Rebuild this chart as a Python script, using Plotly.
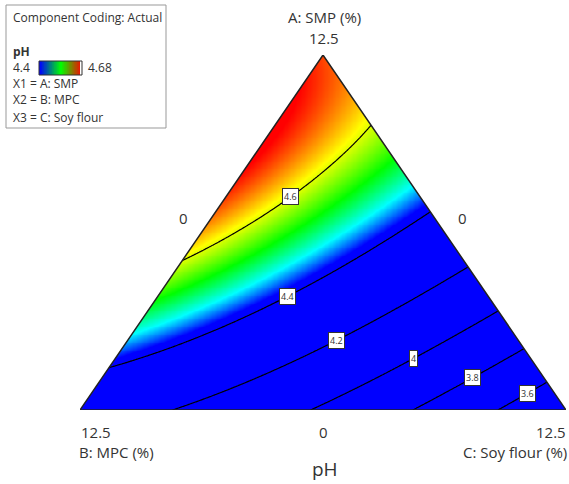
import numpy as np
import plotly.graph_objects as go

# ---------------- data ----------------
components = ["A: SMP", "B: MPC", "C: Soy flour"]
comp_low = 0
comp_high = 12.5
# fitted mixture model (Scheffe, in L-pseudo fractions a,b,c of the 12.5 % total)
linear_coef = [4.66, 4.289, 3.418]      # A, B, C
pair_coef = [0.635, 1.17, 0.498]        # AB, AC, BC
cubic_coef = -0.4                       # ABC
contour_levels = [3.6, 3.8, 4.0, 4.2, 4.4, 4.6]
contour_labels = ["3.6", "3.8", "4", "4.2", "4.4", "4.6"]
color_range = [4.4, 4.68]
# label placement (ternary x-fraction along the base) for each contour label
label_xfrac = [0.920, 0.808, 0.687, 0.527, 0.426, 0.434]

W, H = 569, 484
FONT = "Open Sans"
TXT = "#333333"


def model(a, b, c):
    return (linear_coef[0] * a + linear_coef[1] * b + linear_coef[2] * c
            + pair_coef[0] * a * b + pair_coef[1] * a * c + pair_coef[2] * b * c
            + cubic_coef * a * b * c)


def to_abc(x, y):
    a = y
    c = x - y / 2.0
    b = 1.0 - a - c
    return a, b, c


n = 401
gx = np.linspace(0, 1, n)
gy = np.linspace(0, 1, n)
X, Y = np.meshgrid(gx, gy)
A_, B_, C_ = to_abc(X, Y)
Z = model(A_, B_, C_)

colorscale = [[0.0, "#0000ff"], [0.08, "#0000ff"], [0.27, "#00ffff"], [0.5, "#00ff00"],
              [0.75, "#ffff00"], [1.0, "#ff0000"]]

fig = go.Figure()
fig.add_trace(go.Heatmap(x=gx, y=gy, z=Z, zmin=color_range[0], zmax=color_range[1],
                         colorscale=colorscale, zsmooth="best", showscale=False,
                         hoverinfo="skip"))
fig.add_trace(go.Contour(x=gx, y=gy, z=Z, showscale=False, hoverinfo="skip",
                         contours=dict(start=contour_levels[0], end=contour_levels[-1],
                                       size=0.2, coloring="none", showlabels=False),
                         line=dict(color="black", width=1.2)))

# legend colour bar
cb = np.linspace(color_range[0], color_range[1], 60)
fig.add_trace(go.Heatmap(x=np.arange(60), y=[0], z=[cb], zmin=color_range[0], zmax=color_range[1],
                         colorscale=[[0, "#0000ff"], [0.5, "#00ff00"], [1, "#ff0000"]],
                         zsmooth="best", showscale=False, hoverinfo="skip",
                         xaxis="x2", yaxis="y2"))


def px(v):
    return v / W


def py(v):
    return 1 - v / H


shapes = []
# white masks outside the triangle
shapes.append(dict(type="path", xref="x", yref="y", layer="above",
                   path="M 0,0 L 0.5,1 L -0.1,1.1 L -0.1,-0.1 Z",
                   fillcolor="white", line=dict(width=0)))
shapes.append(dict(type="path", xref="x", yref="y", layer="above",
                   path="M 1,0 L 0.5,1 L 1.1,1.1 L 1.1,-0.1 Z",
                   fillcolor="white", line=dict(width=0)))
# triangle outline
shapes.append(dict(type="path", xref="x", yref="y", layer="above",
                   path="M 0,0 L 0.5,1 L 1,0 Z",
                   line=dict(color="#222222", width=1.5)))
# legend box
shapes.append(dict(type="rect", xref="paper", yref="paper", x0=px(6), x1=px(166),
                   y0=py(128), y1=py(5), line=dict(color="#999999", width=1)))
shapes.append(dict(type="rect", xref="paper", yref="paper", x0=px(39), x1=px(82),
                   y0=py(75), y1=py(61), line=dict(color="#333333", width=1)))

ann = []


def text(x, y, s, size=13, anchor="center", bold=False):
    ann.append(dict(x=px(x), y=py(y), xref="paper", yref="paper", text=("<b>%s</b>" % s) if bold else s,
                    showarrow=False, xanchor=anchor, yanchor="middle",
                    font=dict(family=FONT, size=size, color=TXT)))


# contour labels (positions solved on the model along a vertical line)
for lvl, lab, xf in zip(contour_levels, contour_labels, label_xfrac):
    lo, hi = 0.0, min(2 * xf, 2 * (1 - xf))
    for _ in range(60):
        mid = (lo + hi) / 2
        if model(*to_abc(xf, mid)) < lvl:
            lo = mid
        else:
            hi = mid
    ann.append(dict(x=xf, y=(lo + hi) / 2, xref="x", yref="y", text=lab, showarrow=False,
                    bgcolor="white", bordercolor="#333333", borderwidth=1, borderpad=1,
                    font=dict(family=FONT, size=9, color=TXT)))

fmt = lambda v: ("%g" % v)
AX = 15
# vertex / axis labels
text(324, 17, components[0] + " (%)", AX)
text(324, 38, fmt(comp_high), AX)
text(183, 218, fmt(comp_low), AX)
text(462, 218, fmt(comp_low), AX)
text(323, 432, fmt(comp_low), AX)
text(79, 432, fmt(comp_high), AX, anchor="left")
text(77, 452, components[1] + " (%)", AX, anchor="left")
text(568, 432, fmt(comp_high), AX, anchor="right")
text(569, 452, components[2] + " (%)", AX, anchor="right")
text(325, 469, "pH", 19)

# legend texts
LG = 12
text(11, 17, "Component Coding: Actual", LG, anchor="left")
text(11, 52, "pH", LG, anchor="left", bold=True)
text(11, 68, fmt(color_range[0]), LG, anchor="left")
text(86, 68, fmt(color_range[1]), LG, anchor="left")
text(11, 84, "X1 = " + components[0], LG, anchor="left")
text(11, 100, "X2 = " + components[1], LG, anchor="left")
text(11, 117, "X3 = " + components[2], LG, anchor="left")

hidden = dict(visible=False, showgrid=False, zeroline=False, fixedrange=True)
fig.update_layout(
    width=W, height=H, margin=dict(l=0, r=0, t=0, b=0),
    paper_bgcolor="white", plot_bgcolor="white", showlegend=False,
    xaxis=dict(domain=[px(80), px(566)], range=[0, 1], **hidden),
    yaxis=dict(domain=[py(410), py(55)], range=[0, 1], **hidden),
    xaxis2=dict(domain=[px(39), px(82)], range=[-0.5, 59.5], anchor="y2", **hidden),
    yaxis2=dict(domain=[py(75), py(61)], range=[-0.5, 0.5], anchor="x2", **hidden),
    shapes=shapes, annotations=ann,
)

fig.write_html("out.html", config={"displayModeBar": False})
with open("out.html", "r", encoding="utf-8") as f:
    html = f.read()
html = html.replace("<head>", "<head><style>html,body{margin:0;padding:0;overflow:hidden;}</style>", 1)
with open("out.html", "w", encoding="utf-8") as f:
    f.write(html)
